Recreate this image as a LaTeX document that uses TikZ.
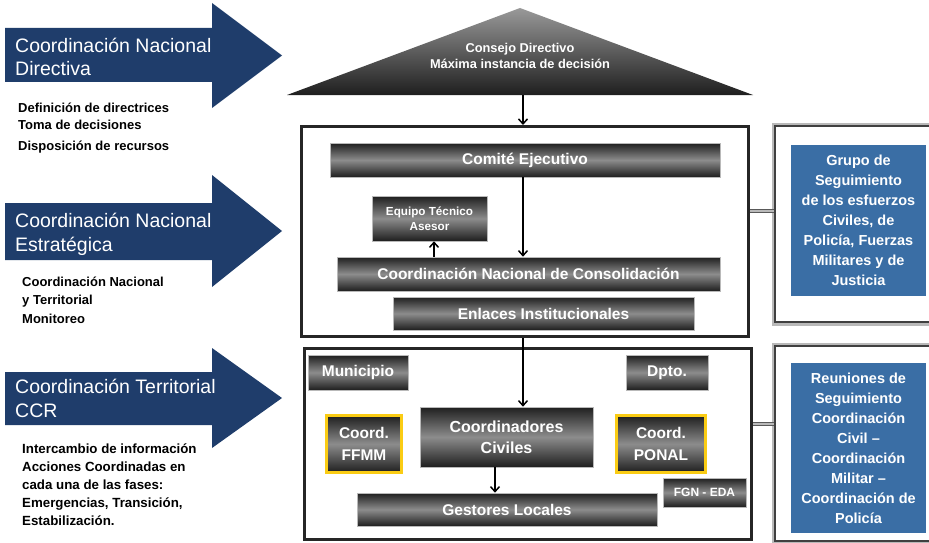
\documentclass[tikz,border=0pt]{standalone}
\usepackage{fontspec}
\setmainfont{Liberation Sans}
\usetikzlibrary{arrows.meta}
\definecolor{navy}{RGB}{31,61,107}
\definecolor{steel}{RGB}{58,110,165}
\definecolor{gold}{RGB}{250,204,20}
\begin{document}
\begin{tikzpicture}[x=1pt,y=-1pt,
  darkbox/.style={draw=gray!55, line width=0.6pt, top color=black!88, bottom color=black!88, middle color=black!45,
    text=white, font=\bfseries\fontsize{15.5}{20}\selectfont, inner sep=1pt, align=center},
  goldbox/.style={darkbox, draw=gold, line width=3pt},
  bluebox/.style={fill=steel, text=white, font=\bfseries\fontsize{14.5}{20}\selectfont, align=center, inner sep=0pt},
  bigframe/.style={draw=black!85, line width=3pt, inner sep=0pt},
  sideframe/.style={draw=black!75, line width=1.3pt, inner sep=0pt},
  arr/.style={line width=1.5pt, -{Straight Barb[length=5pt,width=9pt,line width=1.5pt]}},
  link/.style={draw=black!65, line width=3.6pt},
  linkin/.style={draw=gray!55, line width=1.6pt},
  bigarrow/.style={fill=navy},
  arrowlabel/.style={text=white, font=\fontsize{19.5}{24}\selectfont, align=left, inner sep=0pt, anchor=base west},
  note/.style={text=black, font=\bfseries\fontsize{13}{18.5}\selectfont, align=left, inner sep=0pt, anchor=base west}
]
\useasboundingbox (0,0) rectangle (929,543);
\clip (0,0) rectangle (929,543);

% left arrows (labels anchored at the baseline of their last line)
\fill[bigarrow] (5,28) -- (212,28) -- (212,3) -- (282,55.5) -- (212,108) -- (212,82) -- (5,82) -- cycle;
\node[arrowlabel] (a1) at (15,76) {Coordinación Nacional\\Directiva};
\node[note, font=\bfseries\fontsize{13}{17}\selectfont] (n1) at (18,150) {Definición de directrices\\Toma de decisiones\\[4pt]Disposición de recursos};

\fill[bigarrow] (5,203) -- (212,203) -- (212,175) -- (282,231) -- (212,287) -- (212,260) -- (5,260) -- cycle;
\node[arrowlabel] (a2) at (15,251) {Coordinación Nacional\\Estratégica};
\node[note] (n2) at (22,323) {Coordinación Nacional\\y Territorial\\Monitoreo};

\fill[bigarrow] (5,372) -- (212,372) -- (212,348) -- (282,398) -- (212,448) -- (212,425) -- (5,425) -- cycle;
\node[arrowlabel] (a3) at (15,417) {Coordinación Territorial\\CCR};
\node[note, font=\bfseries\fontsize{13.3}{17.8}\selectfont] (n3) at (22,525) {Intercambio de información\\Acciones Coordinadas en\\cada una de las fases:\\Emergencias, Transición,\\Estabilización.};

% triangle
\shade[top color=black!40, bottom color=black!88] (520,8) -- (753,95) -- (287,95) -- cycle;
\node[text=white, font=\bfseries\fontsize{12.8}{16.5}\selectfont, align=center, inner sep=0pt, anchor=base] (cd) at (520,68.5) {Consejo Directivo\\Máxima instancia de decisión};
\coordinate (tri) at (523,95);
\coordinate (ax) at (523,0);
\coordinate (c1) at (0,211);
\coordinate (c2) at (0,424);

% frames
\node[bigframe, minimum width=447, minimum height=210] (b1) at (525,231.5) {};
\node[bigframe, minimum width=447, minimum height=191] (b2) at (528,444) {};

% right frames
\draw[gray!55, line width=3pt] (960,124) -- (773,124) -- (773,324) -- (960,324);
\node[sideframe, minimum width=185, minimum height=196] (f1) at (867.5,224) {};
\draw[gray!55, line width=3pt] (960,344) -- (773,344) -- (773,543) -- (960,543);
\node[sideframe, minimum width=185, minimum height=195] (f2) at (867.5,443.5) {};

\draw[link] (b1.east |- c1) -- (f1.west |- c1);
\draw[linkin] (b1.east |- c1) -- (f1.west |- c1);
\draw[link] (b2.east |- c2) -- (f2.west |- c2);
\draw[linkin] (b2.east |- c2) -- (f2.west |- c2);

\node[bluebox, minimum width=135, minimum height=151] (g1) at (858.5,220.5)
  {Grupo de\\Seguimiento\\de los esfuerzos\\Civiles, de\\Policía, Fuerzas\\Militares y de\\Justicia};
\node[bluebox, minimum width=135, minimum height=170] (g2) at (858.5,448)
  {Reuniones de\\Seguimiento\\Coordinación\\Civil –\\Coordinación\\Militar –\\Coordinación de\\Policía};

% strategic level
\node[darkbox, minimum width=390, minimum height=34] (ce) at (525,160) {Comité Ejecutivo};
\node[darkbox, minimum width=115, minimum height=45, font=\bfseries\fontsize{11.7}{15}\selectfont] (eq) at (429.5,218.5) {Equipo Técnico\\Asesor};
\node[darkbox, minimum width=383, minimum height=34] (cnc) at (528.5,274) {Coordinación Nacional de Consolidación};
\node[darkbox, minimum width=301, minimum height=33] (en) at (543.5,313.5) {Enlaces Institucionales};

% territorial level
\node[darkbox, minimum width=100, minimum height=35] (mu) at (358,372.5) {Municipio};
\node[darkbox, minimum width=82, minimum height=35] (dp) at (667,372.5) {Dpto.};
\node[goldbox, minimum width=75, minimum height=57, font=\bfseries\fontsize{15.5}{22}\selectfont] (ff) at (364,444) {Coord.\\FFMM};
\node[darkbox, minimum width=173, minimum height=60, font=\bfseries\fontsize{16}{21}\selectfont] (cc) at (506.5,437) {Coordinadores\\Civiles};
\node[goldbox, minimum width=89, minimum height=57, font=\bfseries\fontsize{15.5}{22}\selectfont] (po) at (661,444) {Coord.\\PONAL};
\node[darkbox, minimum width=83, minimum height=29, font=\bfseries\fontsize{12}{15}\selectfont] (fg) at (704.5,492.5) {FGN - EDA};
\node[darkbox, minimum width=300, minimum height=33] (ge) at (507,509.5) {Gestores Locales};

% connectors
\draw[arr] (tri) -- (b1.north -| ax);
\draw[arr] (ce.south -| ax) -- (cnc.north -| ax);
\coordinate (ex) at (434,0);
\draw[arr] (cnc.north -| ex) -- (eq.south -| ex);
\draw[arr] (b1.south -| ax) -- (cc.north -| ax);
\coordinate (gx) at (495,0);
\draw[arr] (cc.south -| gx) -- (ge.north -| gx);
\end{tikzpicture}
\end{document}
